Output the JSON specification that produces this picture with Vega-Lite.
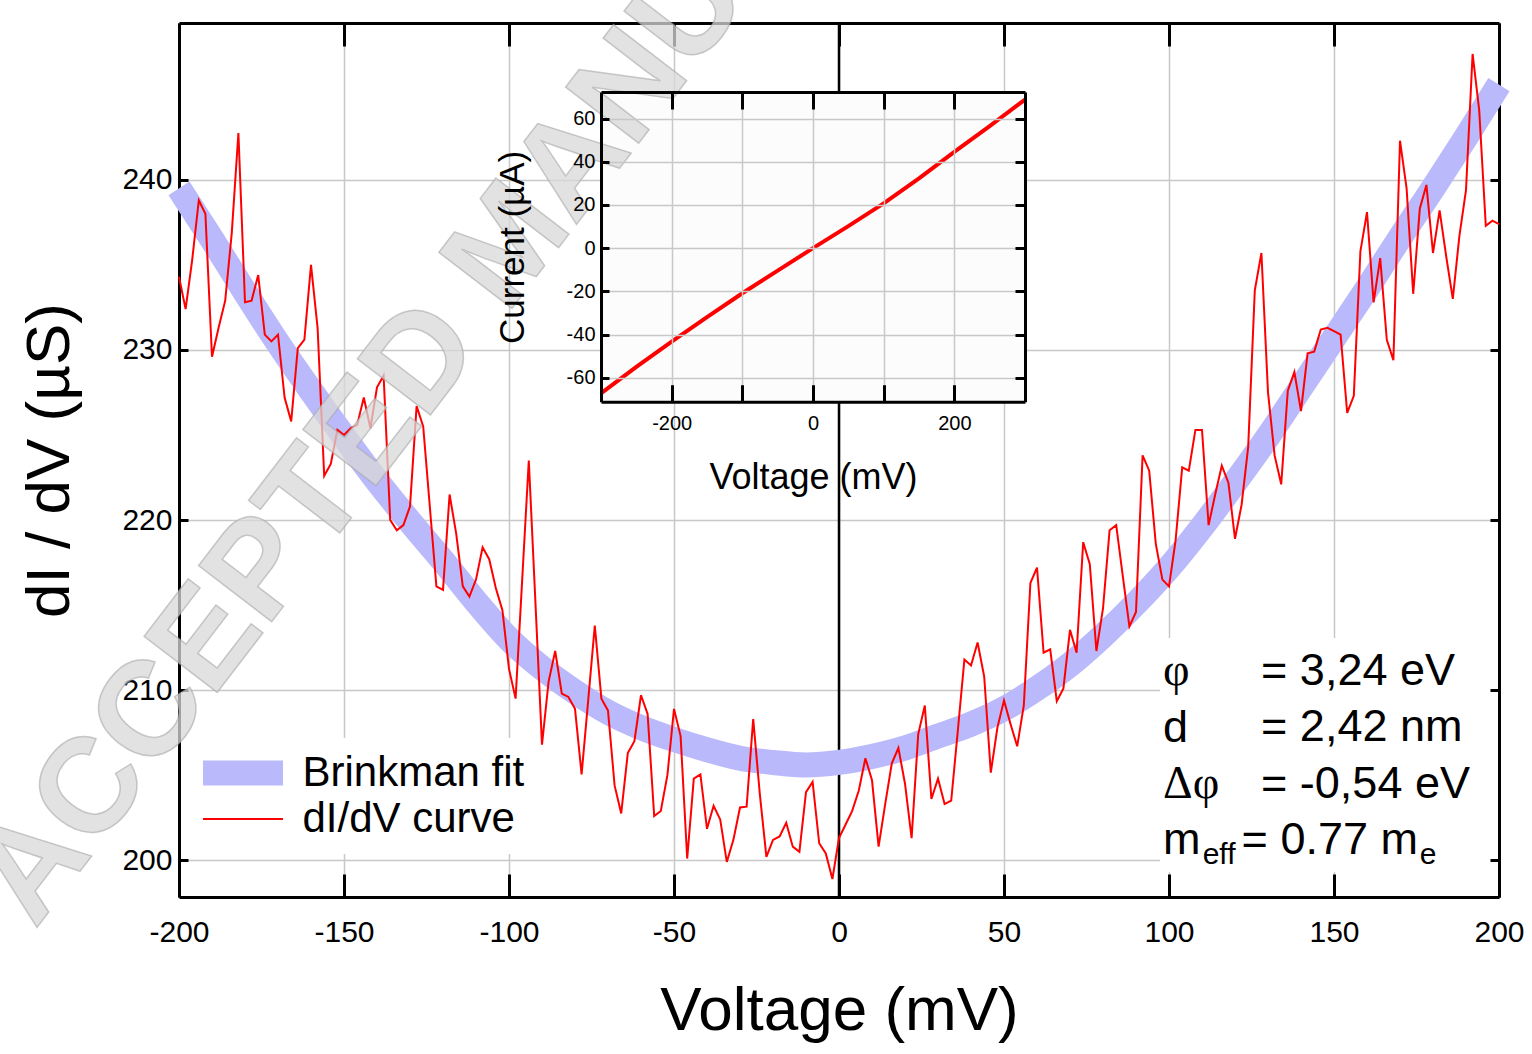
{
  "$schema": "https://vega.github.io/schema/vega-lite/v6.json",
  "width": 1320,
  "height": 874,
  "autosize": {"type": "none"},
  "padding": {"left": 179, "top": 23, "right": 33, "bottom": 157},
  "background": "white",
  "datasets": {
    "curve": [
      {"v":-200,"g":234.3},{"v":-198,"g":232.4},{"v":-196,"g":235.3},{"v":-194,"g":238.8},{"v":-192,"g":238.0},
      {"v":-190,"g":229.6},{"v":-188,"g":231.3},{"v":-186,"g":232.9},{"v":-184,"g":236.9},{"v":-182,"g":242.75},
      {"v":-180,"g":232.8},{"v":-178,"g":232.9},{"v":-176,"g":234.4},{"v":-174,"g":230.9},{"v":-172,"g":230.5},
      {"v":-170,"g":230.9},{"v":-168,"g":227.2},{"v":-166,"g":225.8},{"v":-164,"g":230.1},{"v":-162,"g":230.6},
      {"v":-160,"g":235.0},{"v":-158,"g":231.3},{"v":-156,"g":222.6},{"v":-154,"g":223.3},{"v":-152,"g":225.3},
      {"v":-150,"g":225.0},{"v":-148,"g":225.4},{"v":-146,"g":225.6},{"v":-144,"g":227.2},{"v":-142,"g":225.4},
      {"v":-140,"g":227.8},{"v":-138,"g":228.5},{"v":-136,"g":220.0},{"v":-134,"g":219.4},{"v":-132,"g":219.7},
      {"v":-130,"g":220.8},{"v":-128,"g":226.7},{"v":-126,"g":225.5},{"v":-124,"g":220.8},{"v":-122,"g":216.1},
      {"v":-120,"g":215.9},{"v":-118,"g":221.5},{"v":-116,"g":219.2},{"v":-114,"g":216.1},{"v":-112,"g":215.5},
      {"v":-110,"g":216.5},{"v":-108,"g":218.4},{"v":-106,"g":217.7},{"v":-104,"g":216.0},{"v":-102,"g":214.7},
      {"v":-100,"g":211.25},{"v":-98,"g":209.5},{"v":-96,"g":216.5},{"v":-94,"g":223.5},{"v":-92,"g":215.2},
      {"v":-90,"g":206.8},{"v":-88,"g":210.5},{"v":-86,"g":212.3},{"v":-84,"g":209.8},{"v":-82,"g":209.6},
      {"v":-80,"g":208.9},{"v":-78,"g":205.05},{"v":-76,"g":209.4},{"v":-74,"g":213.8},{"v":-72,"g":209.5},
      {"v":-70,"g":208.8},{"v":-68,"g":204.4},{"v":-66,"g":202.75},{"v":-64,"g":206.3},{"v":-62,"g":207.0},
      {"v":-60,"g":209.7},{"v":-58,"g":208.6},{"v":-56,"g":202.6},{"v":-54,"g":202.9},{"v":-52,"g":205.0},
      {"v":-50,"g":208.9},{"v":-48,"g":207.3},{"v":-46,"g":200.1},{"v":-44,"g":204.8},{"v":-42,"g":205.05},
      {"v":-40,"g":201.85},{"v":-38,"g":203.2},{"v":-36,"g":202.4},{"v":-34,"g":199.9},{"v":-32,"g":201.2},
      {"v":-30,"g":203.1},{"v":-28,"g":203.15},{"v":-26,"g":208.3},{"v":-24,"g":203.9},{"v":-22,"g":200.2},
      {"v":-20,"g":201.2},{"v":-18,"g":201.4},{"v":-16,"g":202.2},{"v":-14,"g":200.8},{"v":-12,"g":200.5},
      {"v":-10,"g":204.0},{"v":-8,"g":204.6},{"v":-6,"g":201.0},{"v":-4,"g":200.4},{"v":-2,"g":198.9},
      {"v":0,"g":201.3},{"v":2,"g":202.1},{"v":4,"g":202.9},{"v":6,"g":204.1},{"v":8,"g":206.0},
      {"v":10,"g":204.7},{"v":12,"g":200.8},{"v":14,"g":203.3},{"v":16,"g":205.7},{"v":18,"g":206.6},
      {"v":20,"g":204.5},{"v":22,"g":201.3},{"v":24,"g":207.4},{"v":26,"g":209.1},{"v":28,"g":203.6},
      {"v":30,"g":204.8},{"v":32,"g":203.3},{"v":34,"g":203.5},{"v":36,"g":207.6},{"v":38,"g":211.8},
      {"v":40,"g":211.45},{"v":42,"g":212.8},{"v":44,"g":210.8},{"v":46,"g":205.15},{"v":48,"g":207.8},
      {"v":50,"g":209.4},{"v":52,"g":208.0},{"v":54,"g":206.7},{"v":56,"g":209.1},{"v":58,"g":216.3},
      {"v":60,"g":217.2},{"v":62,"g":212.2},{"v":64,"g":212.4},{"v":66,"g":209.35},{"v":68,"g":210.1},
      {"v":70,"g":213.55},{"v":72,"g":212.2},{"v":74,"g":218.7},{"v":76,"g":217.4},{"v":78,"g":212.3},
      {"v":80,"g":214.8},{"v":82,"g":219.4},{"v":84,"g":219.7},{"v":86,"g":216.7},{"v":88,"g":213.75},
      {"v":90,"g":214.6},{"v":92,"g":223.8},{"v":94,"g":222.9},{"v":96,"g":218.6},{"v":98,"g":216.5},
      {"v":100,"g":216.1},{"v":102,"g":218.8},{"v":104,"g":223.1},{"v":106,"g":222.9},{"v":108,"g":225.3},
      {"v":110,"g":225.3},{"v":112,"g":219.7},{"v":114,"g":221.5},{"v":116,"g":223.2},{"v":118,"g":222.2},
      {"v":120,"g":218.9},{"v":122,"g":220.9},{"v":124,"g":224.3},{"v":126,"g":233.5},{"v":128,"g":235.7},
      {"v":130,"g":227.5},{"v":132,"g":223.8},{"v":134,"g":222.1},{"v":136,"g":227.6},{"v":138,"g":228.7},
      {"v":140,"g":226.4},{"v":142,"g":229.8},{"v":144,"g":229.9},{"v":146,"g":231.2},{"v":148,"g":231.3},
      {"v":150,"g":231.1},{"v":152,"g":230.9},{"v":154,"g":226.3},{"v":156,"g":227.3},{"v":158,"g":235.8},
      {"v":160,"g":238.1},{"v":162,"g":232.8},{"v":164,"g":235.4},{"v":166,"g":230.6},{"v":168,"g":229.4},
      {"v":170,"g":242.3},{"v":172,"g":239.5},{"v":174,"g":233.3},{"v":176,"g":238.3},{"v":178,"g":239.7},
      {"v":180,"g":235.7},{"v":182,"g":238.2},{"v":184,"g":235.5},{"v":186,"g":233.0},{"v":188,"g":236.7},
      {"v":190,"g":239.4},{"v":192,"g":247.4},{"v":194,"g":244.1},{"v":196,"g":237.3},{"v":198,"g":237.6},
      {"v":200,"g":237.4}
    ],
    "fit": [
      {"v":-200,"g":239.5},{"v":-190,"g":236.5},{"v":-180,"g":233.4},{"v":-170,"g":230.4},{"v":-160,"g":227.6},
      {"v":-150,"g":224.9},{"v":-140,"g":222.3},{"v":-130,"g":219.9},{"v":-120,"g":217.6},{"v":-110,"g":215.2},
      {"v":-100,"g":213.0},{"v":-90,"g":211.3},{"v":-80,"g":209.9},{"v":-70,"g":208.7},{"v":-60,"g":207.8},
      {"v":-50,"g":207.1},{"v":-40,"g":206.5},{"v":-30,"g":206.0},{"v":-20,"g":205.75},{"v":-10,"g":205.6},
      {"v":0,"g":205.75},{"v":10,"g":206.1},{"v":20,"g":206.6},{"v":30,"g":207.3},{"v":40,"g":208.0},
      {"v":50,"g":208.9},{"v":60,"g":210.1},{"v":70,"g":211.5},{"v":80,"g":213.2},{"v":90,"g":215.1},
      {"v":100,"g":217.2},{"v":110,"g":219.6},{"v":120,"g":222.2},{"v":130,"g":224.9},{"v":140,"g":227.8},
      {"v":150,"g":230.7},{"v":160,"g":233.6},{"v":170,"g":236.6},{"v":180,"g":239.5},{"v":190,"g":242.5},
      {"v":200,"g":245.6}
    ],
    "iv": [
      {"v":-300,"i":-67.2},{"v":-250,"i":-55.0},{"v":-200,"i":-43.3},{"v":-150,"i":-31.9},{"v":-100,"i":-20.9},
      {"v":-50,"i":-10.4},{"v":0,"i":0.0},{"v":50,"i":10.2},{"v":100,"i":20.7},{"v":150,"i":32.3},
      {"v":200,"i":44.6},{"v":250,"i":56.5},{"v":300,"i":68.8}
    ]
  },
  "layer": [
    {
      "layer": [
        {
          "data": {"values": [{}]},
          "mark": {"type": "rule", "color": "black", "strokeWidth": 2.5},
          "encoding": {
            "x": {"datum": 0, "type": "quantitative", "axis": null}
          }
        },
        {
          "data": {"name": "fit"},
          "mark": {"type": "line", "interpolate": "monotone", "strokeCap": "butt"},
          "encoding": {
            "x": {
              "field": "v", "type": "quantitative",
              "scale": {"domain": [-200, 200], "nice": false, "zero": false},
              "axis": {
                "orient": "bottom", "values": [-200, -150, -100, -50, 0, 50, 100, 150, 200],
                "labelExpr": "'' + datum.value",
                "title": "Voltage (mV)", "titleFontSize": 62, "titlePadding": 33,
                "labelFontSize": 30, "labelPadding": 43, "tickSize": -23, "tickWidth": 3,
                "domainWidth": 3, "grid": true
              }
            },
            "y": {
              "field": "g", "type": "quantitative",
              "scale": {"domain": [197.84, 249.22], "nice": false, "zero": false},
              "axis": {
                "orient": "left", "values": [200, 210, 220, 230, 240],
                "title": "dI / dV (µS)", "titleFontSize": 62, "titlePadding": 40,
                "labelFontSize": 30, "labelPadding": 16, "tickSize": -9, "tickWidth": 3,
                "domainWidth": 3, "grid": true
              }
            },
            "color": {
              "datum": "Brinkman fit", "type": "nominal",
              "scale": {"domain": ["Brinkman fit", "dI/dV curve"], "range": ["#b9b9fb", "#ff0000"]},
              "legend": {"title": null, "orient": "none", "legendX": 12, "legendY": 715}
            },
            "strokeWidth": {
              "datum": "Brinkman fit", "type": "ordinal",
              "scale": {"domain": ["Brinkman fit", "dI/dV curve"], "range": [25, 2]},
              "legend": {"title": null, "orient": "none", "legendX": 12, "legendY": 715}
            }
          }
        },
        {
          "data": {"name": "curve"},
          "mark": {"type": "line"},
          "encoding": {
            "x": {
              "field": "v", "type": "quantitative",
              "axis": {
                "orient": "top", "values": [-200, -150, -100, -50, 0, 50, 100, 150, 200],
                "labels": false, "title": null, "tickSize": -23, "tickWidth": 3,
                "domainWidth": 3, "grid": false
              }
            },
            "y": {
              "field": "g", "type": "quantitative",
              "axis": {
                "orient": "right", "values": [200, 210, 220, 230, 240],
                "labels": false, "title": null, "tickSize": -9, "tickWidth": 3,
                "domainWidth": 3, "grid": false
              }
            },
            "color": {"datum": "dI/dV curve", "type": "nominal"},
            "strokeWidth": {"datum": "dI/dV curve", "type": "ordinal"}
          }
        },
        {
          "data": {"values": [{}]},
          "mark": {"type": "rect", "fill": "white"},
          "encoding": {
            "x": {"datum": 97.3, "type": "quantitative", "axis": null},
            "x2": {"datum": 197.3},
            "y": {"datum": 213.06, "type": "quantitative", "axis": null},
            "y2": {"datum": 199.3}
          }
        },
        {
          "data": {"values": [{}]},
          "mark": {"type": "text", "align": "left", "baseline": "alphabetic", "fontSize": 45, "font": "Liberation Sans", "color": "black", "lineHeight": 56.3},
          "encoding": {
            "x": {"datum": 127.9, "type": "quantitative", "axis": null},
            "y": {"datum": 210.3, "type": "quantitative", "axis": null},
            "text": {"value": ["= 3,24 eV", "= 2,42 nm", "= -0,54 eV"]}
          }
        },
        {
          "data": {"values": [{}]},
          "mark": {"type": "text", "align": "left", "baseline": "alphabetic", "fontSize": 45, "font": "Liberation Sans", "color": "black"},
          "encoding": {
            "x": {"datum": 122.0, "type": "quantitative", "axis": null},
            "y": {"datum": 200.35, "type": "quantitative", "axis": null},
            "text": {"value": "= 0.77 m"}
          }
        },
        {
          "data": {"values": [{}]},
          "mark": {"type": "text", "align": "left", "baseline": "alphabetic", "fontSize": 45, "font": "Liberation Sans", "color": "black"},
          "encoding": {
            "x": {"datum": 98.2, "type": "quantitative", "axis": null},
            "y": {"datum": 206.96, "type": "quantitative", "axis": null},
            "text": {"value": "d"}
          }
        },
        {
          "data": {"values": [{}]},
          "mark": {"type": "text", "align": "left", "baseline": "alphabetic", "fontSize": 45, "font": "Liberation Sans", "color": "black"},
          "encoding": {
            "x": {"datum": 98.2, "type": "quantitative", "axis": null},
            "y": {"datum": 200.35, "type": "quantitative", "axis": null},
            "text": {"value": "m"}
          }
        },
        {
          "data": {"values": [{}]},
          "mark": {"type": "text", "align": "left", "baseline": "alphabetic", "fontSize": 46, "font": "Liberation Serif", "color": "black"},
          "encoding": {
            "x": {"datum": 98.2, "type": "quantitative", "axis": null},
            "y": {"datum": 210.3, "type": "quantitative", "axis": null},
            "text": {"value": "φ"}
          }
        },
        {
          "data": {"values": [{}]},
          "mark": {"type": "text", "align": "left", "baseline": "alphabetic", "fontSize": 46, "font": "Liberation Serif", "color": "black"},
          "encoding": {
            "x": {"datum": 98.2, "type": "quantitative", "axis": null},
            "y": {"datum": 203.65, "type": "quantitative", "axis": null},
            "text": {"value": "Δφ"}
          }
        },
        {
          "data": {"values": [{}]},
          "mark": {"type": "text", "align": "left", "baseline": "alphabetic", "fontSize": 30, "font": "Liberation Sans", "color": "black"},
          "encoding": {
            "x": {"datum": 110.2, "type": "quantitative", "axis": null},
            "y": {"datum": 199.8, "type": "quantitative", "axis": null},
            "text": {"value": "eff"}
          }
        },
        {
          "data": {"values": [{}]},
          "mark": {"type": "text", "align": "left", "baseline": "alphabetic", "fontSize": 30, "font": "Liberation Sans", "color": "black"},
          "encoding": {
            "x": {"datum": 176.0, "type": "quantitative", "axis": null},
            "y": {"datum": 199.8, "type": "quantitative", "axis": null},
            "text": {"value": "e"}
          }
        }
      ],
      "resolve": {"axis": {"x": "independent", "y": "independent"}}
    },
    {
      "layer": [
        {
          "data": {"values": [{}]},
          "mark": {"type": "rect", "fill": "#fcfcfc"},
          "encoding": {
            "x": {
              "datum": -300, "type": "quantitative",
              "scale": {"domain": [-300, 300], "range": [422, 846], "nice": false, "zero": false},
              "axis": {
                "orient": "bottom", "offset": -495.3, "values": [-200, -100, 0, 100, 200],
                "labelExpr": "datum.value % 200 === 0 ? '' + datum.value : ''",
                "labelFontSize": 20, "labelPadding": 29, "tickSize": -17, "tickWidth": 3,
                "domainWidth": 3, "grid": false, "title": "Voltage (mV)", "titleFontSize": 36,
                "titlePadding": 27, "zindex": 1
              }
            },
            "x2": {"datum": 300},
            "y": {
              "datum": -71.1, "type": "quantitative",
              "scale": {"domain": [-71.1, 72.3], "range": [378.7, 69], "nice": false, "zero": false},
              "axis": {
                "orient": "left", "offset": -422, "values": [-60, -40, -20, 0, 20, 40, 60],
                "labelExpr": "'' + datum.value",
                "labelFontSize": 20, "labelPadding": 14, "tickSize": -8, "tickWidth": 3,
                "domainWidth": 3, "grid": true, "title": "Current (µA)", "titleFontSize": 35,
                "titlePadding": 36, "zindex": 1
              }
            },
            "y2": {"datum": 72.3}
          }
        },
        {
          "data": {"name": "iv"},
          "mark": {"type": "line", "color": "#ff0000", "strokeWidth": 4},
          "encoding": {
            "x": {
              "field": "v", "type": "quantitative",
              "axis": {
                "orient": "top", "offset": -69, "values": [-200, -100, 0, 100, 200],
                "labels": false, "title": null, "tickSize": -17, "tickWidth": 3,
                "domainWidth": 3, "grid": true, "zindex": 1
              }
            },
            "y": {
              "field": "i", "type": "quantitative",
              "axis": {
                "orient": "right", "offset": -474, "values": [-60, -40, -20, 0, 20, 40, 60],
                "labels": false, "title": null, "tickSize": -10, "tickWidth": 3,
                "domainWidth": 3, "grid": false, "zindex": 1
              }
            }
          }
        },
        {
          "data": {"values": [{}]},
          "mark": {"type": "text", "align": "center", "baseline": "middle", "fontSize": 134, "fontWeight": "bold", "font": "Liberation Sans", "angle": -52.5, "fill": "#d8d8d8", "fillOpacity": 0.75, "stroke": "#a8a8a8", "strokeWidth": 1.5, "strokeOpacity": 0.6},
          "encoding": {
            "x": {"datum": -427.4, "type": "quantitative", "axis": null},
            "y": {"datum": 1.9, "type": "quantitative", "axis": null},
            "text": {"value": "ACCEPTED MANUSCRIPT"}
          }
        }
      ],
      "resolve": {"axis": {"x": "independent", "y": "independent"}}
    }
  ],
  "resolve": {
    "scale": {"x": "independent", "y": "independent"},
    "axis": {"x": "independent", "y": "independent"}
  },
  "config": {
    "font": "Liberation Sans",
    "view": {"stroke": "transparent"},
    "axis": {
      "labelColor": "black", "titleColor": "black", "tickColor": "black", "domainColor": "black",
      "labelFont": "Liberation Sans", "titleFont": "Liberation Sans", "titleFontWeight": "normal",
      "labelFlush": false, "labelOverlap": false, "gridColor": "#c8c8c8", "gridWidth": 1.5
    },
    "legend": {
      "labelFontSize": 42, "labelFont": "Liberation Sans", "labelColor": "black",
      "symbolType": "stroke", "symbolSize": 6400, "fillColor": "white", "padding": 12,
      "clipHeight": 46, "symbolOffset": -12.5, "labelOffset": 7, "rowPadding": 0, "labelLimit": 400
    }
  }
}
